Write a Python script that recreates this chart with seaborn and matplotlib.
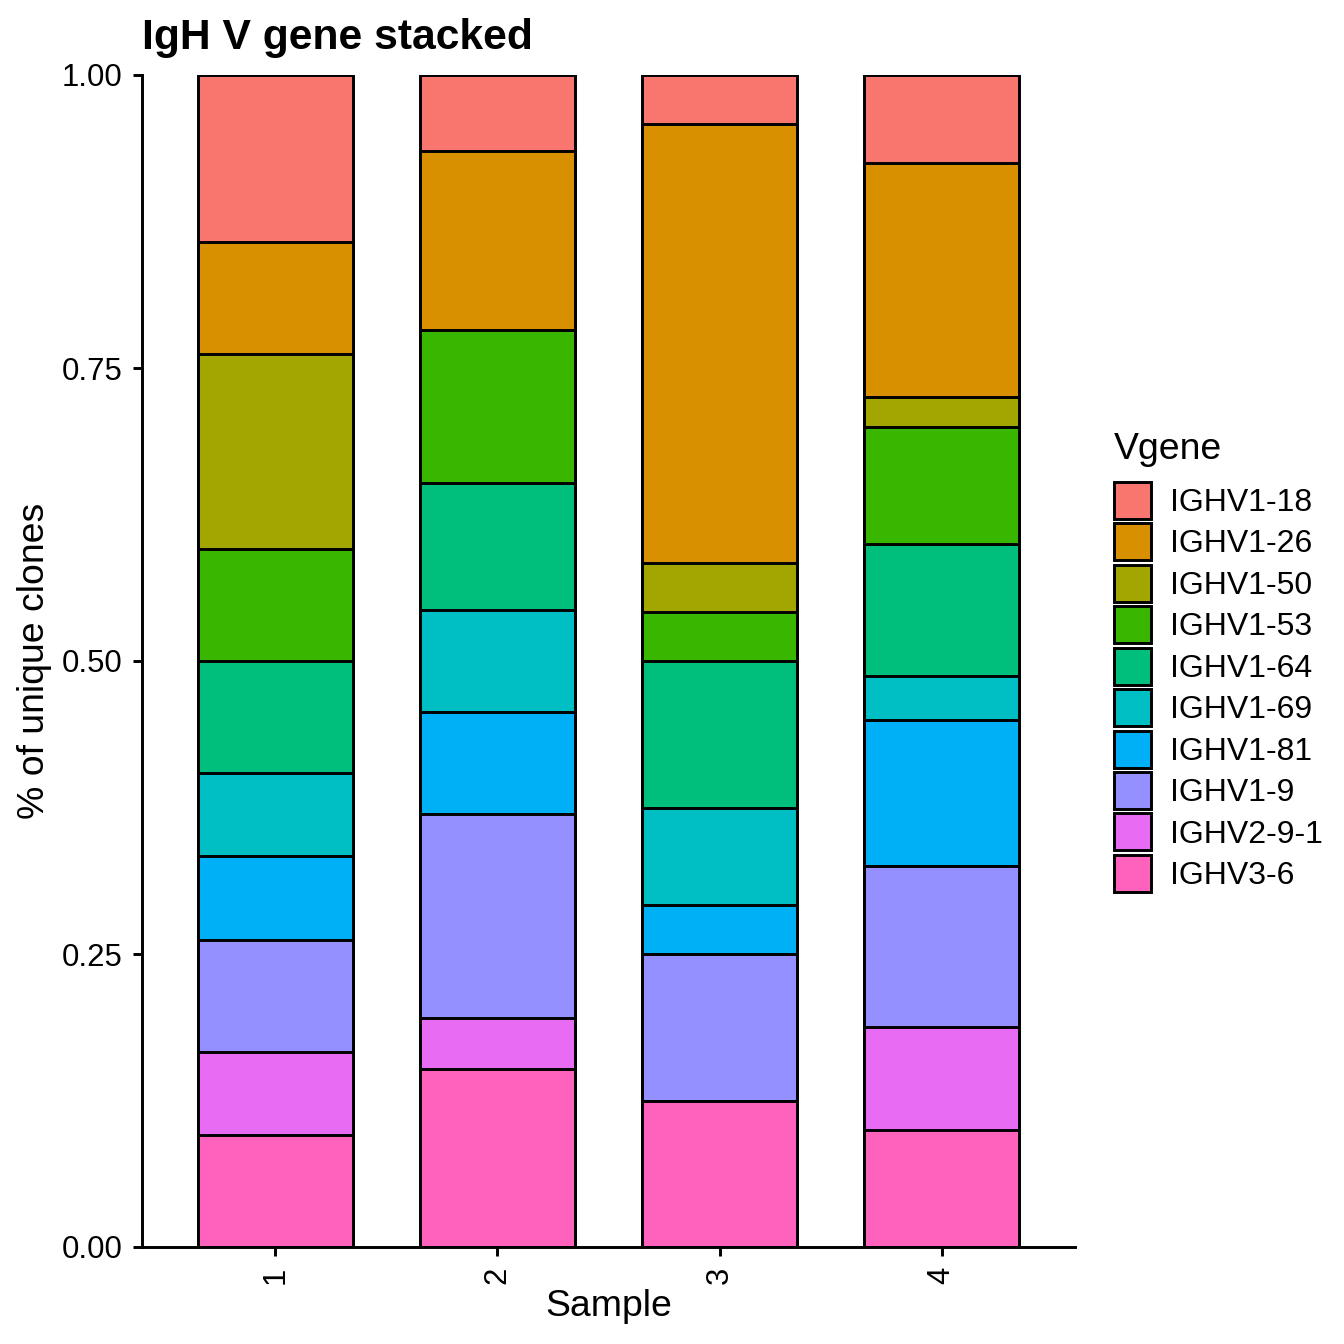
import numpy as np
import pandas as pd
import matplotlib
matplotlib.use("Agg")
import matplotlib.pyplot as plt
import seaborn as sns
from matplotlib.patches import Patch

# ---- data (clone counts per sample, stacked as fractions) ----
samples = ["1", "2", "3", "4"]
genes = ["IGHV1-18", "IGHV1-26", "IGHV1-50", "IGHV1-53", "IGHV1-64",
         "IGHV1-69", "IGHV1-81", "IGHV1-9", "IGHV2-9-1", "IGHV3-6"]
counts_s1 = [6, 4, 7, 4, 4, 3, 3, 4, 3, 4]
counts_s2 = [3, 7, 0, 6, 5, 4, 4, 8, 2, 7]
counts_s3 = [1, 9, 1, 1, 3, 2, 1, 3, 0, 3]
counts_s4 = [6, 16, 2, 8, 9, 3, 10, 11, 7, 8]
colors = ["#F8766D", "#D89000", "#A3A500", "#39B600", "#00BF7D",
          "#00BFC4", "#00B0F6", "#9590FF", "#E76BF3", "#FF62BC"]
y_ticks = [0.0, 0.25, 0.5, 0.75, 1.0]
y_tick_labels = ["0.00", "0.25", "0.50", "0.75", "1.00"]

rows = []
for s, cnts in zip(samples, [counts_s1, counts_s2, counts_s3, counts_s4]):
    tot = sum(cnts)
    for g, c in zip(genes, cnts):
        rows.append({"Sample": s, "Vgene": g, "frac": c / tot})
df = pd.DataFrame(rows)
df["Vgene"] = pd.Categorical(df["Vgene"], categories=genes, ordered=True)
df = df.sort_values(["Sample", "Vgene"])
# cumulative from the bottom (last gene at the bottom, first gene on top)
df["top"] = df.iloc[::-1].groupby("Sample")["frac"].cumsum().iloc[::-1]

sns.set_theme(style="ticks")
plt.rcParams["font.family"] = ["Liberation Sans", "DejaVu Sans"]
plt.rcParams["text.color"] = "black"
plt.rcParams["axes.labelcolor"] = "black"

fig = plt.figure(figsize=(7, 7), dpi=192)
ax = fig.add_axes([142/1344, 1 - 1247/1344, (1075-142)/1344, (1247-75)/1344])

for g, col in zip(genes, colors):
    sub = df[df["Vgene"] == g]
    sns.barplot(data=sub, x="Sample", y="top", order=samples, color=col,
                width=0.7, edgecolor="black", linewidth=1.1, saturation=1,
                ax=ax, errorbar=None)

ax.set_xlim(-0.6, 3.6)
ax.set_ylim(0, 1)
ax.set_yticks(y_ticks)
ax.set_yticklabels(y_tick_labels)
ax.tick_params(axis="both", length=3.4, width=1.1, color="black",
               labelsize=11.7, labelcolor="black", pad=4)
ax.tick_params(axis="x", labelrotation=90)
for sp in ["top", "right"]:
    ax.spines[sp].set_visible(False)
for sp in ["left", "bottom"]:
    ax.spines[sp].set_linewidth(1.1)
    ax.spines[sp].set_color("black")
ax.set_xlabel("Sample", fontsize=14, color="black", labelpad=2)
ax.set_ylabel("% of unique clones", fontsize=14, color="black", labelpad=3.5)

fig.text(142/1344, 1 - 49/1344, "IgH V gene stacked", fontsize=16,
         fontweight="bold", ha="left", va="baseline", color="black")

handles = [Patch(facecolor=c, edgecolor="black", linewidth=1.1) for c in colors]
leg = fig.legend(handles, genes, title="Vgene", loc="upper left",
                 bbox_to_anchor=(1114/1344, 1 - 432/1344), frameon=False,
                 fontsize=12, title_fontsize=14, handlelength=1.15,
                 handleheight=1.4, labelspacing=0.14, handletextpad=0.6,
                 alignment="left", borderaxespad=0, borderpad=0)
for t in leg.get_texts():
    t.set_color("black")
leg.get_title().set_color("black")
leg._legend_box.sep = 5.6

fig.savefig("out.png", dpi=192)
